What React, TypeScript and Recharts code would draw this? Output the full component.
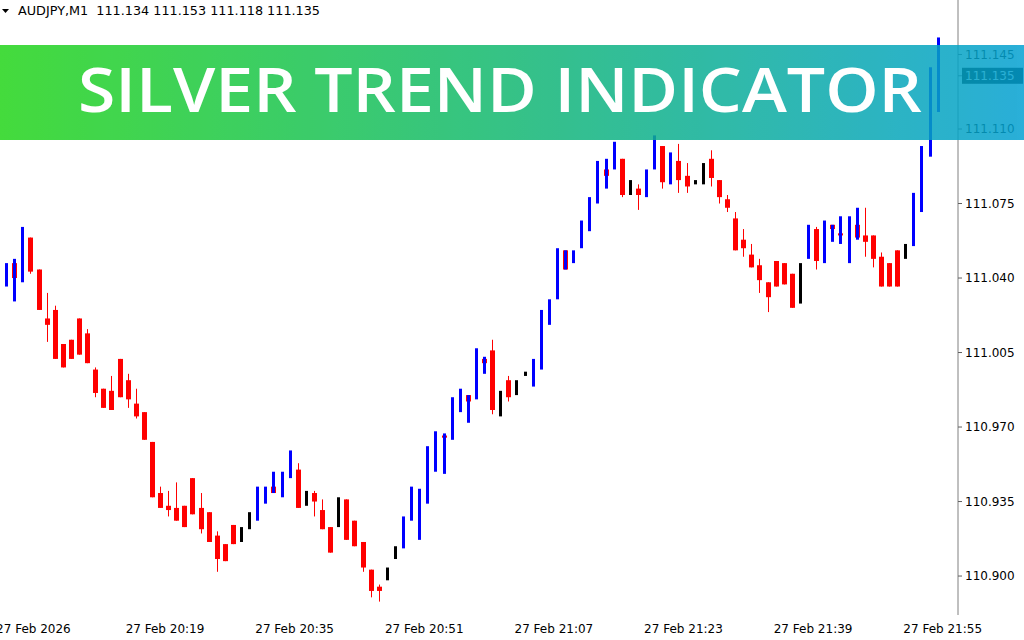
import React from 'react';
import { ComposedChart, Bar, XAxis, YAxis } from 'recharts';

// one slot per minute, 20:03 .. 22:01 (first and last slots are empty, like MT4 chart shift)
const firstMinute = 20 * 60 + 3;
const slotCount = 119;
const times = Array.from({ length: slotCount }, (_, i) => {
  const m = firstMinute + i;
  return `${Math.floor(m / 60)}:${String(m % 60).padStart(2, '0')}`;
});

const timeTicks = ['20:03', '20:19', '20:35', '20:51', '21:07', '21:23', '21:39', '21:55'];
const timeTickLabels = [
  '27 Feb 2026',
  '27 Feb 20:19',
  '27 Feb 20:35',
  '27 Feb 20:51',
  '27 Feb 21:07',
  '27 Feb 21:23',
  '27 Feb 21:39',
  '27 Feb 21:55',
];

const priceTicks = [110.9, 110.935, 110.97, 111.005, 111.04, 111.075, 111.11, 111.135, 111.145];
const lastClose = 111.135;

// bars 20:04 .. 21:59
const highs = [
  111.047, 111.049, 111.064, 111.059, 111.044, 111.033, 111.027, 111.009, 111.011, 111.021,
  111.016, 110.998, 110.988, 110.994, 111.002, 110.995, 110.988, 110.977, 110.963, 110.942,
  110.94, 110.944, 110.933, 110.946, 110.939, 110.93, 110.921, 110.915, 110.924, 110.923,
  110.93, 110.942, 110.942, 110.949, 110.949, 110.959, 110.953, 110.94, 110.94, 110.936,
  110.923, 110.937, 110.936, 110.926, 110.916, 110.903, 110.896, 110.904, 110.914, 110.928,
  110.942, 110.941, 110.961, 110.968, 110.967, 110.984, 110.988, 110.985, 111.007, 111.003,
  111.011, 110.987, 110.994, 110.992, 110.996, 111.002, 111.025, 111.03, 111.054, 111.053,
  111.053, 111.067, 111.078, 111.095, 111.096, 111.104, 111.096, 111.086, 111.084, 111.091,
  111.107, 111.102, 111.099, 111.103, 111.094, 111.086, 111.094, 111.1, 111.086, 111.079,
  111.071, 111.063, 111.056, 111.049, 111.038, 111.048, 111.047, 111.042, 111.047, 111.065,
  111.064, 111.067, 111.065, 111.069, 111.069, 111.073, 111.073, 111.06, 111.052, 111.047,
  111.053, 111.056, 111.08, 111.102, 111.139, 111.153,
];

const lows = [
  111.036, 111.029, 111.038, 111.042, 111.025, 111.01, 111.002, 110.998, 111.002, 111.004,
  111.0, 110.984, 110.979, 110.978, 110.984, 110.979, 110.974, 110.964, 110.937, 110.932,
  110.928, 110.926, 110.923, 110.929, 110.92, 110.916, 110.902, 110.907, 110.915, 110.916,
  110.922, 110.926, 110.934, 110.939, 110.937, 110.946, 110.932, 110.933, 110.928, 110.922,
  110.911, 110.923, 110.917, 110.914, 110.902, 110.89, 110.888, 110.898, 110.908, 110.913,
  110.926, 110.917, 110.934, 110.949, 110.948, 110.964, 110.977, 110.972, 110.983, 110.995,
  110.976, 110.975, 110.982, 110.985, 110.994, 110.989, 110.997, 111.018, 111.03, 111.044,
  111.047, 111.054, 111.062, 111.075, 111.082, 111.091, 111.078, 111.079, 111.072, 111.078,
  111.091, 111.082, 111.084, 111.08, 111.08, 111.084, 111.084, 111.083, 111.075, 111.071,
  111.053, 111.05, 111.045, 111.033, 111.024, 111.036, 111.037, 111.026, 111.028, 111.049,
  111.044, 111.047, 111.057, 111.056, 111.047, 111.058, 111.05, 111.045, 111.036, 111.036,
  111.036, 111.049, 111.055, 111.071, 111.097, 111.118,
];

// red candle bodies (null = no body drawn)
const bodyTops = [
  null, 111.047, null, 111.059, 111.044, 111.021, 111.025, 111.009, 111.011, 111.021,
  111.014, 110.997, 110.988, 110.987, 111.002, 110.992, 110.981, 110.977, 110.963, 110.939,
  110.933, 110.932, 110.933, 110.946, 110.932, 110.93, 110.919, 110.915, 110.924, null,
  null, null, null, 110.942, null, null, 110.95, null, 110.939, 110.931,
  110.923, null, 110.936, 110.926, 110.916, 110.903, 110.895, null, null, null,
  null, null, null, null, 110.966, null, null, 110.985, null, 111.002,
  111.006, null, 110.992, null, null, null, null, null, null, 111.053,
  null, null, null, null, 111.091, null, 111.096, null, 111.082, null,
  null, 111.102, null, 111.095, 111.088, null, null, 111.096, 111.086, 111.077,
  111.068, 111.058, 111.051, 111.046, 111.038, 111.048, 111.047, 111.042, null, null,
  111.063, null, 111.065, 111.061, null, 111.065, 111.06, 111.06, 111.05, 111.047,
  111.053, null, null, null, null, null,
];

const bodyBottoms = [
  null, 111.04, null, 111.043, 111.025, 111.018, 111.002, 110.998, 111.002, 111.004,
  111.0, 110.986, 110.979, 110.978, 110.984, 110.983, 110.975, 110.964, 110.937, 110.932,
  110.931, 110.926, 110.923, 110.929, 110.922, 110.916, 110.908, 110.907, 110.915, null,
  null, null, null, 110.939, null, null, 110.932, null, 110.935, 110.922,
  110.911, null, 110.917, 110.914, 110.904, 110.893, 110.893, null, null, null,
  null, null, null, null, 110.965, null, null, 110.982, null, 111.0,
  110.978, null, 110.984, null, null, null, null, null, null, 111.044,
  null, null, null, null, 111.088, null, 111.079, null, 111.079, null,
  null, 111.085, null, 111.086, 111.083, null, null, 111.087, 111.078, 111.073,
  111.053, 111.054, 111.045, 111.039, 111.031, 111.036, 111.037, 111.026, null, null,
  111.048, null, 111.063, 111.06, null, 111.059, 111.057, 111.049, 111.036, 111.036,
  111.036, null, null, null, null, null,
];

// silver trend state: u = up (blue), d = down (red), n = neutral (black)
const trends = (
  'uuuddddddd' + 'dddddddddd' + 'dddddddddn' + 'nuuuuudndd' + 'dndddddnnu' +
  'uuuuuuuuuu' + 'dndnnuuuuu' + 'uuuuuudndu' + 'ududdnnddd' + 'ddddddddnu' +
  'duuuuudddd' + 'dnuuuu'
).split('');

const trendColor: Record<string, string> = { u: '#0000ff', d: '#ff0000', n: '#000000' };

const data = times.map((t, i) => {
  const k = i - 1;
  const has = k >= 0 && k < highs.length;
  return {
    t,
    h: has ? highs[k] : null,
    l: has ? lows[k] : null,
    bt: has ? bodyTops[k] : null,
    bb: has ? bodyBottoms[k] : null,
    tr: has ? trends[k] : null,
  };
});

const rangeKey = (d: any) => (d.h == null ? null : [d.l, d.h]);
const bodyKey = (d: any) => (d.bt == null ? null : [d.bb, d.bt]);

const RangeShape = (p: any) => {
  const d = p.payload;
  if (!d || d.h == null || !isFinite(p.y) || !isFinite(p.height)) return <g />;
  const cx = Math.round(p.x + p.width / 2);
  const top = Math.min(p.y, p.y + p.height);
  const hgt = Math.max(1, Math.abs(p.height));
  const w = d.tr === 'd' ? 1 : 3;
  return <rect x={cx - Math.floor(w / 2)} y={top} width={w} height={hgt} fill={trendColor[d.tr]} />;
};

const BodyShape = (p: any) => {
  const d = p.payload;
  if (!d || d.bt == null || !isFinite(p.y) || !isFinite(p.height)) return <g />;
  const cx = Math.round(p.x + p.width / 2);
  const top = Math.min(p.y, p.y + p.height);
  const hgt = Math.max(1.5, Math.abs(p.height));
  return <rect x={cx - 2} y={top} width={5} height={hgt} fill="#ff0000" />;
};

const TimeTick = (p: any) => {
  const idx = timeTicks.indexOf(p.payload.value);
  return (
    <text x={p.x - 2} y={633} textAnchor="start" fontSize={12} fontFamily="DejaVu Sans" fill="#000">
      {idx >= 0 ? timeTickLabels[idx] : p.payload.value}
    </text>
  );
};

const PriceTick = (p: any) => {
  const v = p.payload.value;
  const cur = Math.abs(v - lastClose) < 1e-6;
  return (
    <g>
      {cur && <rect x={p.x - 3} y={p.y - 8} width={61} height={16} fill="#000" />}
      <text x={p.x} y={p.y} dy="0.355em" textAnchor="start" fontSize={12} fontFamily="DejaVu Sans" fill={cur ? '#fff' : '#000'}>
        {v.toFixed(3)}
      </text>
    </g>
  );
};

export default function App() {
  return (
    <div style={{ position: 'absolute', left: 0, top: 0, width: 1024, height: 640, overflow: 'hidden', background: '#fff' }}>
      <div style={{ position: 'absolute', left: -20, top: 0 }}>
        <ComposedChart width={1044} height={640} data={data} margin={{ top: 0, right: 0, bottom: 0, left: 14 }}>
          <XAxis
            xAxisId="m"
            dataKey="t"
            ticks={timeTicks}
            interval={0}
            height={25}
            tickSize={4}
            tickMargin={5}
            axisLine={{ stroke: '#808080' }}
            tickLine={{ stroke: '#606060' }}
            tick={<TimeTick />}
          />
          <XAxis xAxisId="b" dataKey="t" hide />
          <YAxis
            orientation="right"
            type="number"
            domain={[110.8817, 111.1706]}
            allowDataOverflow
            ticks={priceTicks}
            interval={0}
            width={66}
            tickSize={4}
            tickMargin={3}
            axisLine={{ stroke: '#808080' }}
            tickLine={{ stroke: '#606060' }}
            tick={<PriceTick />}
          />
          <Bar xAxisId="b" dataKey={bodyKey} barSize={6} shape={<BodyShape />} isAnimationActive={false} />
          <Bar xAxisId="m" dataKey={rangeKey} barSize={6} shape={<RangeShape />} isAnimationActive={false} />
        </ComposedChart>
      </div>
      <svg width={1024} height={640} style={{ position: 'absolute', left: 0, top: 0, pointerEvents: 'none' }}>
        <defs>
          <linearGradient id="banner" x1="0" x2="1" y1="0" y2="0">
            <stop offset="0" stopColor="#24d51b" />
            <stop offset="0.55" stopColor="#11b57b" />
            <stop offset="1" stopColor="#04a1d2" />
          </linearGradient>
        </defs>
        <polygon points="2,9 9,9 5.5,13" fill="#000" />
        <text x={18} y={15} fontSize={12} fontFamily="DejaVu Sans" fill="#000" textLength={302} lengthAdjust="spacingAndGlyphs" style={{ whiteSpace: 'pre' }}>
          {'AUDJPY,M1  111.134 111.153 111.118 111.135'}
        </text>
        <g opacity={0.85}>
          <rect x={0} y={45} width={1024} height={95} fill="url(#banner)" />
          <text x={78} y={112} fontSize={62} fontWeight={600} fontFamily="Open Sans" fill="#fff" textLength={844} lengthAdjust="spacingAndGlyphs">
            SILVER TREND INDICATOR
          </text>
        </g>
      </svg>
    </div>
  );
}
